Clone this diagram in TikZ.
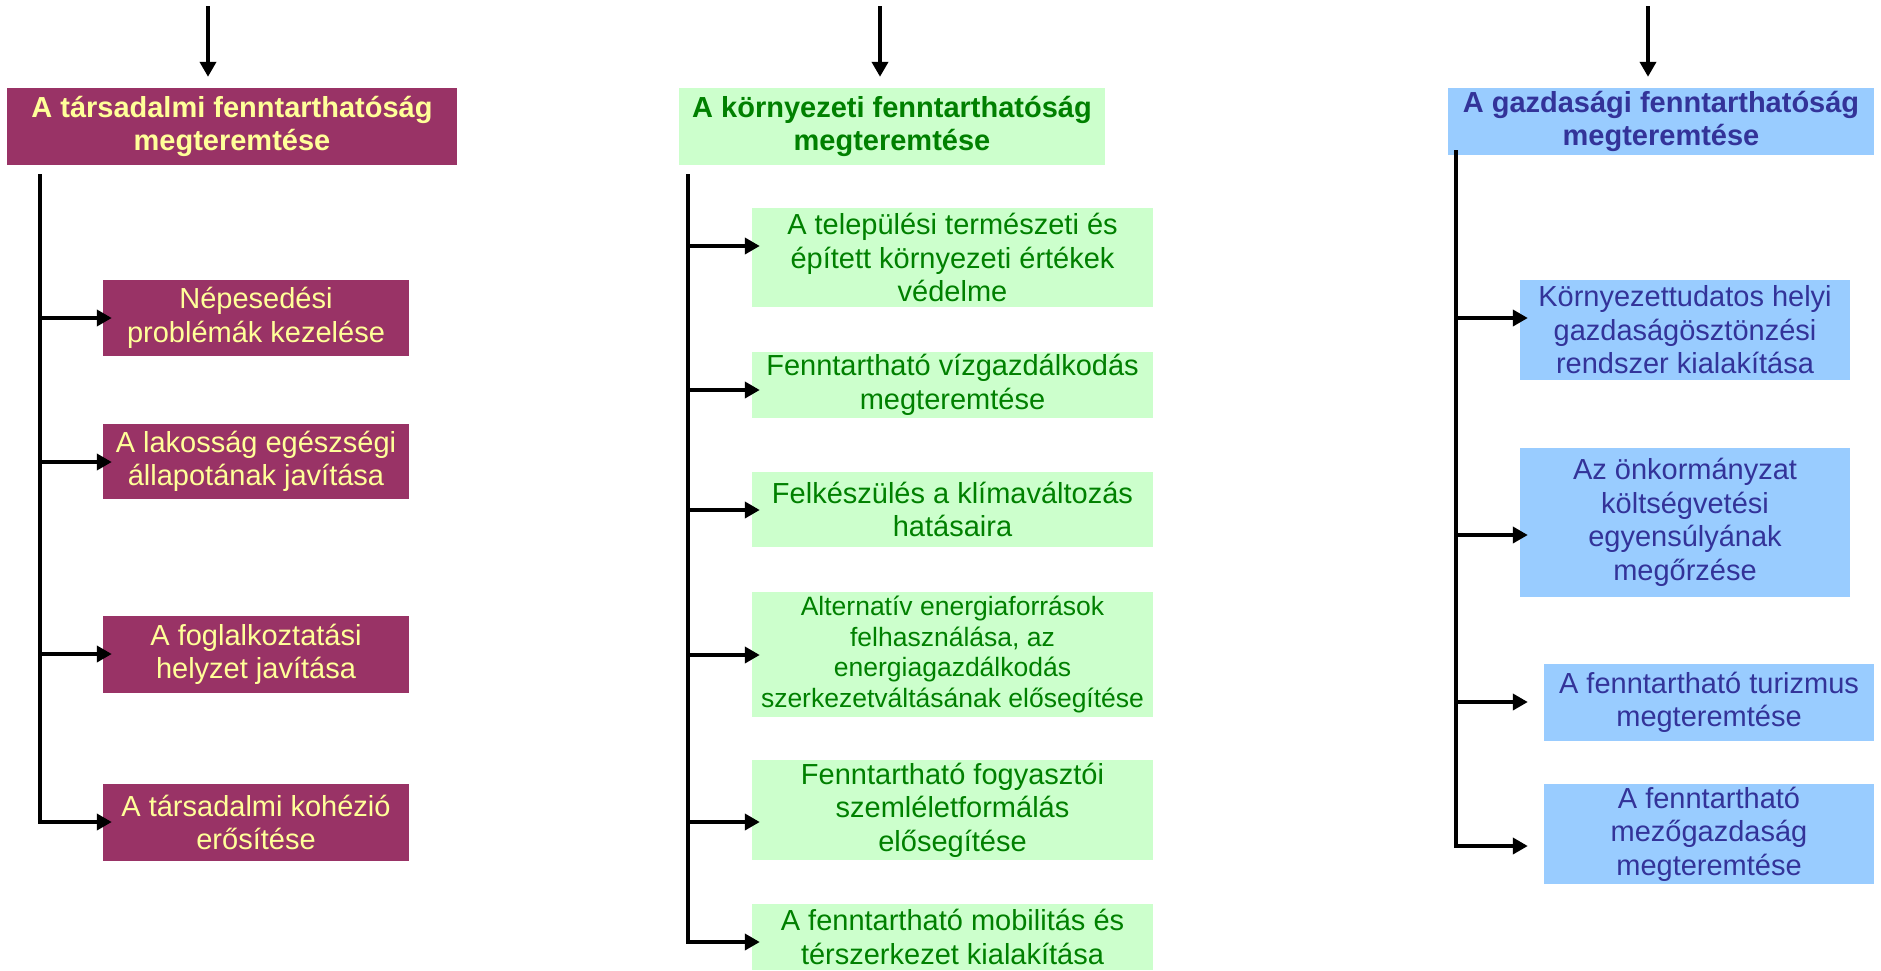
\documentclass[tikz,border=0pt]{standalone}
\usepackage{fontspec}
\setmainfont{Liberation Sans}
\usetikzlibrary{arrows.meta}

\definecolor{socfill}{HTML}{993366}
\definecolor{soctext}{HTML}{FFFF99}
\definecolor{envfill}{HTML}{CCFFCC}
\definecolor{envtext}{HTML}{008000}
\definecolor{ecofill}{HTML}{99CCFF}
\definecolor{ecotext}{HTML}{333399}

\tikzset{
  headfont/.style={font=\fontsize{29}{33.5}\selectfont\bfseries},
  wire/.style={draw=black,line width=4pt},
}

\begin{document}
\begin{tikzpicture}[x=1pt,y=-1pt,>={Triangle[length=15pt,width=16pt]}]
  \useasboundingbox (0,0) rectangle (1881,970);

  % social column
  \begin{scope}[every node/.style={fill=socfill,text=soctext,inner sep=0pt,align=center,
      font=\fontsize{29}{33.5}\selectfont,minimum width=306}]
    \node[headfont,minimum width=450,minimum height=77] (socHead) at (232,126.5) {A társadalmi fenntarthatóság\\megteremtése};
    \node[minimum height=76] (soc1) at (256,318) {Népesedési\\problémák kezelése};
    \node[minimum height=75] (soc2) at (256,461.5) {A lakosság egészségi\\állapotának javítása};
    \node[minimum height=77] (soc3) at (256,654.5) {A foglalkoztatási\\helyzet javítása};
    \node[minimum height=77] (soc4) at (256,822.5) {A társadalmi kohézió\\erősítése};
  \end{scope}

  % environmental column
  \begin{scope}[every node/.style={fill=envfill,text=envtext,inner sep=0pt,align=center,
      font=\fontsize{29}{33.5}\selectfont,minimum width=401}]
    \node[headfont,minimum width=426,minimum height=77] (envHead) at (892,126.5) {A környezeti fenntarthatóság\\megteremtése};
    \node[minimum height=99] (env1) at (952.5,257.5) {A települési természeti és\\épített környezeti értékek\\védelme};
    \node[minimum height=66] (env2) at (952.5,385) {Fenntartható vízgazdálkodás\\megteremtése};
    \node[minimum height=75] (env3) at (952.5,509.5) {Felkészülés a klímaváltozás\\hatásaira};
    \node[minimum height=125,font=\fontsize{26.5}{30.5}\selectfont] (env4) at (952.5,654.5) {Alternatív energiaforrások\\felhasználása, az\\energiagazdálkodás\\szerkezetváltásának elősegítése};
    \node[minimum height=100] (env5) at (952.5,810) {Fenntartható fogyasztói\\szemléletformálás\\elősegítése};
    \node[minimum height=66] (env6) at (952.5,937) {A fenntartható mobilitás és\\térszerkezet kialakítása};
  \end{scope}

  % economic column
  \begin{scope}[every node/.style={fill=ecofill,text=ecotext,inner sep=0pt,align=center,
      font=\fontsize{29}{33.5}\selectfont,minimum width=330}]
    \node[headfont,minimum width=426,minimum height=67] (ecoHead) at (1661,121.5) {A gazdasági fenntarthatóság\\megteremtése};
    \node[minimum height=100] (eco1) at (1685,330) {Környezettudatos helyi\\gazdaságösztönzési\\rendszer kialakítása};
    \node[minimum height=149] (eco2) at (1685,522.5) {Az önkormányzat\\költségvetési\\egyensúlyának\\megőrzése};
    \node[minimum height=77] (eco3) at (1709,702.5) {A fenntartható turizmus\\megteremtése};
    \node[minimum height=100] (eco4) at (1709,834) {A fenntartható\\mezőgazdaság\\megteremtése};
  \end{scope}

  % inputs, spines and junctions
  \coordinate (socIn) at (208,6);
  \coordinate (envIn) at (880,6);
  \coordinate (ecoIn) at (1648,6);
  \coordinate (socTop) at (40,174);
  \coordinate (envTop) at (688,174);
  \coordinate (ecoTop) at (1456,150);
  \coordinate (socJ1) at (40,318);
  \coordinate (socJ2) at (40,462);
  \coordinate (socJ3) at (40,654);
  \coordinate (socJ4) at (40,822);
  \coordinate (envJ1) at (688,246);
  \coordinate (envJ2) at (688,390);
  \coordinate (envJ3) at (688,510);
  \coordinate (envJ4) at (688,655);
  \coordinate (envJ5) at (688,822);
  \coordinate (envJ6) at (688,942);
  \coordinate (ecoJ1) at (1456,318);
  \coordinate (ecoJ2) at (1456,535);
  \coordinate (ecoJ3) at (1456,702);
  \coordinate (ecoJ4) at (1456,846);

  \begin{scope}[every edge/.style={wire}]
    \path [->] (socIn) edge[shorten >=11pt] (socIn |- socHead.north);
    \path [->] (envIn) edge[shorten >=11pt] (envIn |- envHead.north);
    \path [->] (ecoIn) edge[shorten >=11pt] (ecoIn |- ecoHead.north);

    \draw [wire,->,shorten >=-9pt] (socTop) -- (socJ4) -- (socJ4 -| soc4.west);
    \path [->] (socJ1) edge[shorten >=-9pt] (socJ1 -| soc1.west);
    \path [->] (socJ2) edge[shorten >=-9pt] (socJ2 -| soc2.west);
    \path [->] (socJ3) edge[shorten >=-9pt] (socJ3 -| soc3.west);

    \draw [wire,->,shorten >=-8pt] (envTop) -- (envJ6) -- (envJ6 -| env6.west);
    \path [->] (envJ1) edge[shorten >=-8pt] (envJ1 -| env1.west);
    \path [->] (envJ2) edge[shorten >=-8pt] (envJ2 -| env2.west);
    \path [->] (envJ3) edge[shorten >=-8pt] (envJ3 -| env3.west);
    \path [->] (envJ4) edge[shorten >=-8pt] (envJ4 -| env4.west);
    \path [->] (envJ5) edge[shorten >=-8pt] (envJ5 -| env5.west);

    \draw [wire,->,shorten >=16pt] (ecoTop) -- (ecoJ4) -- (ecoJ4 -| eco4.west);
    \path [->] (ecoJ1) edge[shorten >=-8pt] (ecoJ1 -| eco1.west);
    \path [->] (ecoJ2) edge[shorten >=-8pt] (ecoJ2 -| eco2.west);
    \path [->] (ecoJ3) edge[shorten >=16pt] (ecoJ3 -| eco3.west);
  \end{scope}
\end{tikzpicture}
\end{document}
